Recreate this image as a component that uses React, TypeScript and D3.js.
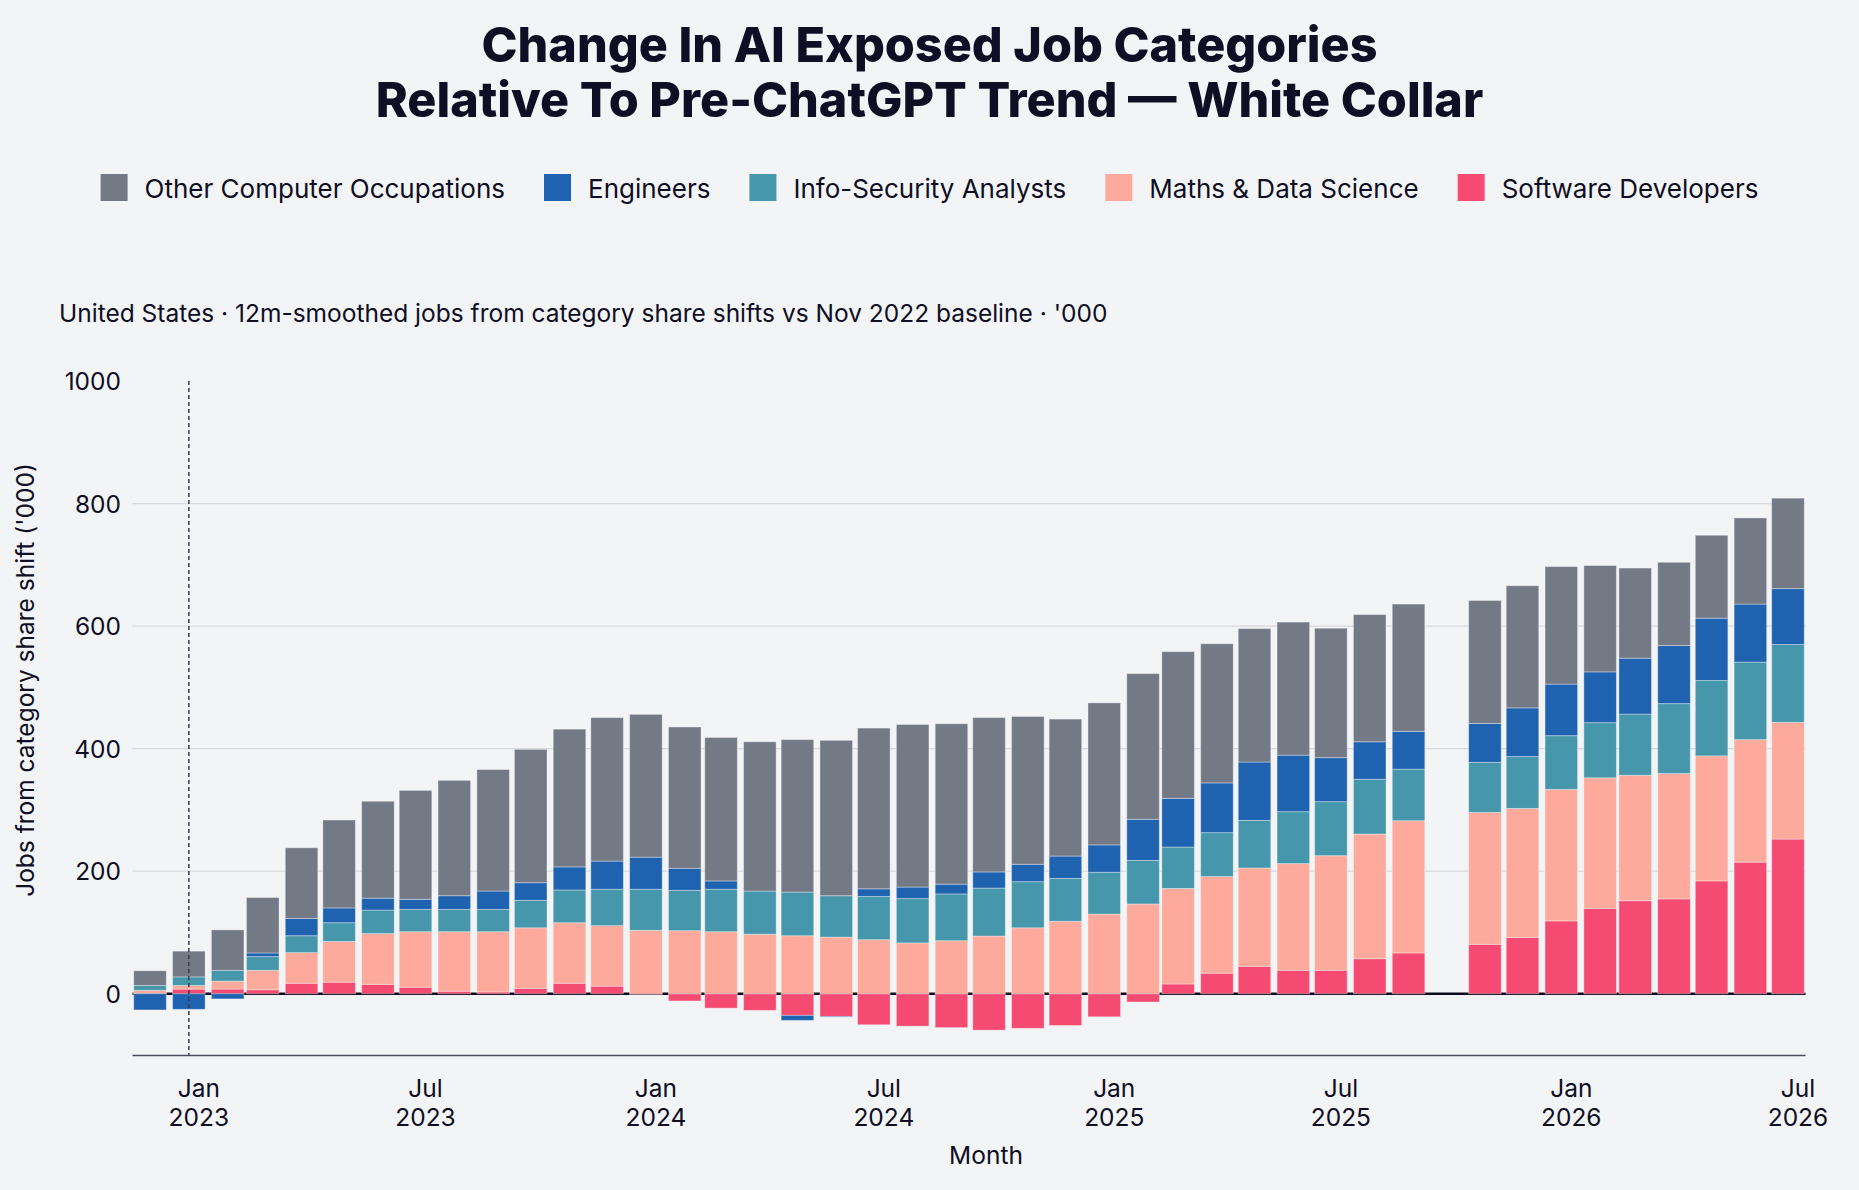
import { useEffect, useRef } from "react";
import * as d3 from "d3";

// ---------------------------------------------------------------------------
// Data ('000 jobs). null = month not published.
// ---------------------------------------------------------------------------

const MONTHS = [
  "2022-12", "2023-01", "2023-02", "2023-03", "2023-04", "2023-05", "2023-06",
  "2023-07", "2023-08", "2023-09", "2023-10", "2023-11", "2023-12", "2024-01",
  "2024-02", "2024-03", "2024-04", "2024-05", "2024-06", "2024-07", "2024-08",
  "2024-09", "2024-10", "2024-11", "2024-12", "2025-01", "2025-02", "2025-03",
  "2025-04", "2025-05", "2025-06", "2025-07", "2025-08", "2025-09", "2025-10",
  "2025-11", "2025-12", "2026-01", "2026-02", "2026-03", "2026-04", "2026-05",
  "2026-06", "2026-07",
];

const SOFTWARE = [
  0.5, 7.5, 7.6, 6.5, 17.1, 18.8, 15.3, 10.6, 4.1, 2.9, 8.8, 17.1, 12.4, -1,
  -11.8, -23.5, -27.1, -35.3, -37.1, -50.6, -52.9, -55.3, -59.4, -56.5, -51.8,
  -37.6, -13.5, 15.9, 33.5, 44.7, 38.2, 38.2, 57.1, 66.5, null, 80.6, 91.8,
  118.8, 139.4, 151.8, 154.7, 184.1, 214.7, 252.4,
];

const MATHS = [
  5, 6, 13, 31.7, 50, 66.5, 82.9, 90.6, 97.1, 98.3, 98.8, 98.8, 98.8, 103.5,
  102.9, 101.2, 97.1, 94.7, 92.4, 88.2, 82.9, 86.5, 94.1, 107.6, 118.2, 130,
  146.5, 155.9, 157.7, 160.6, 174.2, 187.1, 203.5, 215.9, null, 215.3, 210.6,
  214.7, 213, 204.7, 204.7, 204.1, 200, 190.5,
];

const INFOSEC = [
  8, 14, 17.6, 22.4, 27.6, 30.6, 38.3, 36.4, 36.4, 36.4, 44.8, 53.5, 59.4,
  67.1, 65.9, 69.4, 70.5, 71.2, 67.6, 70.6, 72.4, 76.4, 78.3, 75.3, 70, 68.2,
  71.1, 67.6, 71.7, 77.6, 84.7, 88.2, 89.4, 84.1, null, 81.7, 84.7, 87.7, 90,
  100, 114.1, 123, 126.5, 127.1,
];

const ENGINEERS = [
  -26.5, -25.5, -8.5, 5.9, 28.2, 24.1, 19.4, 16.5, 22.4, 30, 28.8, 37.6, 45.9,
  52.3, 35.9, 13.5, 0, -8.2, -1, 12.4, 18.8, 15.9, 26.4, 28.3, 36.5, 44.7,
  67.1, 79.4, 81.2, 95.3, 92.3, 71.8, 61.2, 61.7, null, 63.6, 79.4, 84.1, 82.9,
  91.1, 94.7, 101.7, 94.7, 91.2,
];

const OTHER = [
  24, 42, 66, 90.5, 115.3, 143.5, 158.2, 177.7, 188.2, 198.3, 217.6, 224.8,
  234.1, 233, 230.6, 234.1, 243.6, 248.8, 253.5, 262.3, 265.3, 261.8, 251.8,
  241.2, 223.5, 231.8, 237.7, 239.4, 227.1, 217.7, 217.1, 211.2, 207.6, 207.7,
  null, 200.6, 199.4, 191.8, 173.5, 147.1, 135.9, 135.3, 140.6, 147.6,
];

// stacking order (bottom up) and legend order
const STACK_KEYS = ["software", "maths", "infosec", "engineers", "other"];
const LEGEND_KEYS = ["other", "engineers", "infosec", "maths", "software"];

const LABELS: Record<string, string> = {
  other: "Other Computer Occupations",
  engineers: "Engineers",
  infosec: "Info-Security Analysts",
  maths: "Maths & Data Science",
  software: "Software Developers",
};

const COLORS: Record<string, string> = {
  other: "#747986",
  engineers: "#1f62b0",
  infosec: "#4697ab",
  maths: "#fdaa9c",
  software: "#f54a71",
};

const Y_TICKS = [0, 200, 400, 600, 800, 1000];
const CHATGPT_MARK = "2023-01";

const TITLE = [
  "Change In AI Exposed Job Categories",
  "Relative To Pre-ChatGPT Trend \u2014 White Collar",
];
const SUBTITLE =
  "United States \u00b7 12m-smoothed jobs from category share shifts vs Nov 2022 baseline \u00b7 '000";

// ---------------------------------------------------------------------------

const W = 1859;
const H = 1190;
const BG = "#f3f4f6";
const INK = "#0e0e24";
const FONT = "Inter, 'Open Sans', sans-serif";
const FS = 24.5;

export default function App() {
  const svgRef = useRef<SVGSVGElement>(null);

  useEffect(() => {
    document.body.style.margin = "0";
    document.body.style.background = BG;

    const svg = d3.select(svgRef.current);
    svg.selectAll("*").remove();

    const left = 132.5;
    const right = 1805.5;
    const top = 381;
    const bottom = 1055;

    const parse = d3.utcParse("%Y-%m");
    const dates = MONTHS.map((m) => parse(m) as Date);

    const x = d3
      .scaleUtc()
      .domain([d3.utcDay.offset(dates[0], -14), d3.utcDay.offset(dates[dates.length - 1], 14)])
      .range([left, right]);
    const y = d3.scaleLinear().domain([-100, 1000]).range([bottom, top]);

    const series: Record<string, (number | null)[]> = {
      software: SOFTWARE,
      maths: MATHS,
      infosec: INFOSEC,
      engineers: ENGINEERS,
      other: OTHER,
    };

    const rows = dates
      .map((d, i) => {
        const r: any = { date: d };
        STACK_KEYS.forEach((k) => (r[k] = series[k][i]));
        return r;
      })
      .filter((r) => r.software !== null);

    const stacked = d3
      .stack<any>()
      .keys(STACK_KEYS)
      .offset(d3.stackOffsetDiverging)(rows);

    const barW = x(d3.utcDay.offset(dates[0], 26)) - x(dates[0]);

    svg.append("rect").attr("width", W).attr("height", H).attr("fill", BG);

    // ---- Title ----
    TITLE.forEach((t, i) => {
      svg
        .append("text")
        .attr("x", W / 2)
        .attr("y", 62 + i * 55)
        .attr("text-anchor", "middle")
        .attr("font-family", FONT)
        .attr("font-weight", 800)
        .attr("font-size", 48.5)
        .attr("fill", INK)
        .text(t);
    });

    // ---- Legend (measured, centred) ----
    const legend = svg.append("g");
    let cursor = 0;
    LEGEND_KEYS.forEach((k, i) => {
      const item = legend.append("g").attr("transform", `translate(${cursor},0)`);
      item
        .append("rect")
        .attr("x", 0)
        .attr("y", 174)
        .attr("width", 27)
        .attr("height", 27)
        .attr("fill", COLORS[k]);
      const t = item
        .append("text")
        .attr("x", 44)
        .attr("y", 188)
        .attr("dominant-baseline", "central")
        .attr("font-family", FONT)
        .attr("font-size", 26)
        .attr("fill", INK)
        .text(LABELS[k]);
      const tw = (t.node() as SVGTextElement).getComputedTextLength();
      cursor += 44 + tw + (i < LEGEND_KEYS.length - 1 ? 39 : 0);
    });
    legend.attr("transform", `translate(${W / 2 - cursor / 2},0)`);

    // ---- Subtitle ----
    svg
      .append("text")
      .attr("x", 59)
      .attr("y", 322)
      .attr("font-family", FONT)
      .attr("font-size", FS)
      .attr("fill", INK)
      .text(SUBTITLE);

    // ---- Grid ----
    const g = svg.append("g");
    Y_TICKS.filter((v) => v > 0 && v < 1000).forEach((v) => {
      g.append("line")
        .attr("x1", left)
        .attr("x2", right)
        .attr("y1", y(v))
        .attr("y2", y(v))
        .attr("stroke", "#d8d9de")
        .attr("stroke-width", 1.2);
    });

    // zero line (under the bars)
    g.append("line")
      .attr("x1", left)
      .attr("x2", right)
      .attr("y1", y(0))
      .attr("y2", y(0))
      .attr("stroke", "#0c0c1e")
      .attr("stroke-width", 2.4);

    // ---- Bars ----
    stacked.forEach((layer) => {
      g.append("g")
        .selectAll("rect")
        .data(layer)
        .join("rect")
        .attr("x", (d: any) => x(d.data.date) - barW / 2)
        .attr("width", barW)
        .attr("y", (d) => y(Math.max(d[0], d[1])))
        .attr("height", (d) => Math.abs(y(d[0]) - y(d[1])))
        .attr("fill", COLORS[layer.key])
        .attr("stroke", "rgba(255,255,255,0.35)")
        .attr("stroke-width", 1);
    });

    // ---- Bottom axis line ----
    g.append("line")
      .attr("x1", left)
      .attr("x2", right)
      .attr("y1", bottom + 0.5)
      .attr("y2", bottom + 0.5)
      .attr("stroke", "#4b4b5b")
      .attr("stroke-width", 1.4);

    // ---- ChatGPT marker ----
    const markX = x(parse(CHATGPT_MARK) as Date);
    g.append("line")
      .attr("x1", markX)
      .attr("x2", markX)
      .attr("y1", top)
      .attr("y2", bottom)
      .attr("stroke", "#3a3a4c")
      .attr("stroke-width", 1.5)
      .attr("stroke-dasharray", "4,3");

    // ---- Y axis labels ----
    Y_TICKS.forEach((v) => {
      g.append("text")
        .attr("x", 121)
        .attr("y", y(v))
        .attr("text-anchor", "end")
        .attr("dominant-baseline", "central")
        .attr("font-family", FONT)
        .attr("font-size", FS)
        .attr("fill", INK)
        .text(String(v));
    });

    g.append("text")
      .attr("transform", "translate(25,680) rotate(-90)")
      .attr("text-anchor", "middle")
      .attr("dominant-baseline", "central")
      .attr("font-family", FONT)
      .attr("font-size", FS)
      .attr("fill", INK)
      .text("Jobs from category share shift ('000)");

    // ---- X axis labels ----
    const ticks = x.ticks(d3.utcMonth.every(6) as any);
    ticks.forEach((t) => {
      const tx = x(t) + 10;
      g.append("text")
        .attr("x", tx)
        .attr("y", 1097)
        .attr("text-anchor", "middle")
        .attr("font-family", FONT)
        .attr("font-size", FS)
        .attr("fill", INK)
        .text(d3.utcFormat("%b")(t));
      g.append("text")
        .attr("x", tx)
        .attr("y", 1126)
        .attr("text-anchor", "middle")
        .attr("font-family", FONT)
        .attr("font-size", FS)
        .attr("fill", INK)
        .text(d3.utcFormat("%Y")(t));
    });

    g.append("text")
      .attr("x", 986)
      .attr("y", 1164)
      .attr("text-anchor", "middle")
      .attr("font-family", FONT)
      .attr("font-size", FS)
      .attr("fill", INK)
      .text("Month");
  }, []);

  return <svg ref={svgRef} width={W} height={H} style={{ display: "block" }} />;
}
